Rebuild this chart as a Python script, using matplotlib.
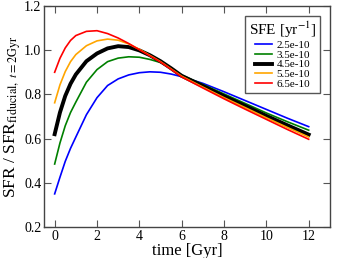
import numpy as np
import matplotlib as ml
ml.use("Agg")
import matplotlib.pyplot as plt

# time grid [Gyr]
t = [0, 0.25, 0.5, 0.75, 1, 1.5, 2, 2.5, 3, 3.5, 4, 4.5, 5, 5.5, 6, 7, 8, 9, 10, 11, 12]

# SFR / SFR_fiducial for each SFE value
sfr_25 = [0.350, 0.425, 0.497, 0.556, 0.607, 0.708, 0.785, 0.840, 0.870, 0.888, 0.898, 0.902, 0.900, 0.892, 0.880, 0.850, 0.812, 0.772, 0.732, 0.692, 0.654]
sfr_35 = [0.485, 0.580, 0.658, 0.718, 0.765, 0.855, 0.912, 0.948, 0.964, 0.970, 0.968, 0.958, 0.944, 0.918, 0.887, 0.845, 0.802, 0.759, 0.716, 0.676, 0.638]
sfr_45 = [0.620, 0.718, 0.793, 0.848, 0.890, 0.950, 0.985, 1.008, 1.018, 1.014, 0.999, 0.977, 0.950, 0.918, 0.884, 0.838, 0.792, 0.748, 0.703, 0.660, 0.618]
sfr_55 = [0.762, 0.843, 0.903, 0.948, 0.980, 1.020, 1.042, 1.050, 1.045, 1.028, 1.004, 0.976, 0.948, 0.915, 0.882, 0.833, 0.785, 0.740, 0.694, 0.650, 0.607]
sfr_65 = [0.900, 0.963, 1.010, 1.044, 1.066, 1.085, 1.088, 1.075, 1.055, 1.030, 1.002, 0.974, 0.946, 0.913, 0.879, 0.829, 0.780, 0.733, 0.687, 0.641, 0.597]

labels = ["2.5e-10", "3.5e-10", "4.5e-10", "5.5e-10", "6.5e-10"]
colors = ["blue", "green", "black", "orange", "red"]
widths = [1.2, 1.2, 2.8, 1.2, 1.2]

ml.rcParams['font.family'] = ['Liberation Serif', 'DejaVu Serif']
ml.rcParams['mathtext.fontset'] = 'stix'

fig = plt.figure(figsize=(3.39, 2.58), dpi=100)
ax = fig.add_axes([0.130, 0.120, 0.843, 0.857])

for y, lab, c, lw in zip([sfr_25, sfr_35, sfr_45, sfr_55, sfr_65], labels, colors, widths):
	ax.plot(t, y, color=c, lw=lw, label=lab)

ax.set_xlim(-0.5, 13)
ax.set_ylim(0.2, 1.2)
ax.set_xticks(np.arange(0, 13, 2))
ax.set_yticks(np.arange(0.2, 1.21, 0.2))
ax.yaxis.set_major_formatter(ml.ticker.FormatStrFormatter('%.1f'))
ax.tick_params(direction='in', top=True, right=True, length=5, width=0.8,
	color='#555555', labelsize=10, pad=2)
for s in ax.spines.values():
	s.set_color('#444444')
	s.set_linewidth(1.0)

ax.set_xlabel('time [Gyr]', fontsize=12, labelpad=0)
ax.set_ylabel(r'SFR / SFR$_{\mathrm{fiducial},\ t=2\mathrm{Gyr}}$', fontsize=12.5, labelpad=1)

leg = ax.legend(title=r'SFE [yr$^{-1}$]', loc='upper right', fontsize=8,
	title_fontsize=11, handlelength=1.6, handletextpad=0.4, labelspacing=0.0,
	borderpad=0.35, fancybox=False, framealpha=1, bbox_to_anchor=(0.985, 0.98))
leg.get_frame().set_edgecolor('#555555')
leg.get_frame().set_linewidth(1.0)

plt.savefig('out.png', dpi=100)
